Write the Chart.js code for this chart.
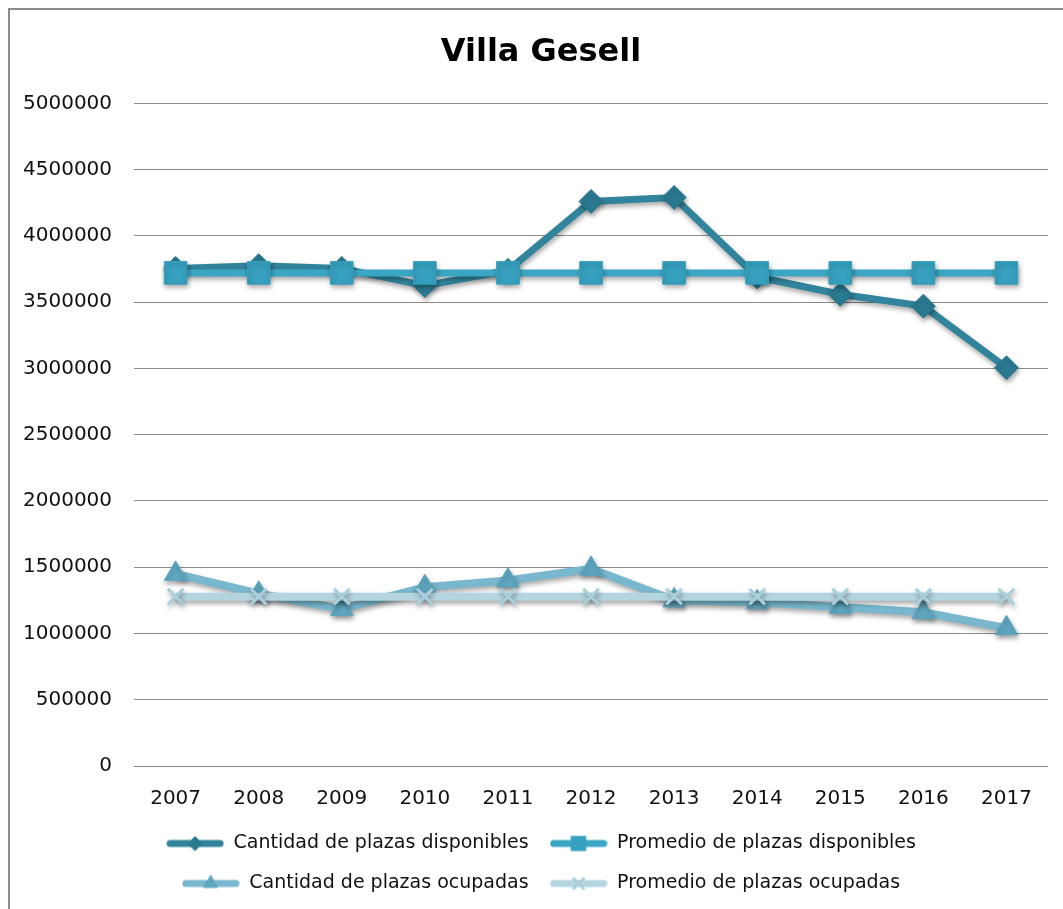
<!DOCTYPE html>
<html>
<head>
<meta charset="utf-8">
<script src="https://cdn.jsdelivr.net/npm/chart.js"></script>
<style>
    body { margin: 0; background: #fff; }
    #frame {
        position: absolute; left: 8px; top: 8px;
        width: 1062px; height: 908px;
        border-left: 2px solid #8a8a8a; border-top: 2px solid #8a8a8a;
        background: #fff;
    }
</style>
</head>
<body>
<div id="frame"><canvas id="villaChart"></canvas></div>
<script>
// Villa Gesell - plazas disponibles / ocupadas
const years = ['2007', '2008', '2009', '2010', '2011', '2012', '2013', '2014', '2015', '2016', '2017'];
const plazasDisponibles = [3755000, 3775000, 3755000, 3625000, 3740000, 4260000, 4290000, 3690000, 3560000, 3470000, 3005000];
const promedioDisponibles = [3721000, 3721000, 3721000, 3721000, 3721000, 3721000, 3721000, 3721000, 3721000, 3721000, 3721000];
const plazasOcupadas = [1450000, 1300000, 1185000, 1350000, 1400000, 1488000, 1250000, 1235000, 1200000, 1160000, 1040000];
const promedioOcupadas = [1278000, 1278000, 1278000, 1278000, 1278000, 1278000, 1278000, 1278000, 1278000, 1278000, 1278000];
const yTicks = [0, 500000, 1000000, 1500000, 2000000, 2500000, 3000000, 3500000, 4000000, 4500000, 5000000];

const seriesStyles = [
    { label: 'Cantidad de plazas disponibles', data: plazasDisponibles, line: '#31849b', fill: '#2a7a91', width: 7, point: 'rectRot', radius: 12, legendRadius: 7 },
    { label: 'Promedio de plazas disponibles', data: promedioDisponibles, line: '#3ba6c4', fill: '#36a0be', width: 7, point: 'rect', radius: 16, legendRadius: 10 },
    { label: 'Cantidad de plazas ocupadas', data: plazasOcupadas, line: '#78b7cd', fill: '#5fa7c0', width: 8, point: 'triangle', radius: 13, legendRadius: 8 },
    { label: 'Promedio de plazas ocupadas', data: promedioOcupadas, line: '#b4d5e0', fill: '#a9cfdc', width: 8, point: 'crossRot', radius: 11, legendRadius: 7 }
];

// small legend icon: thick line with the marker in the middle
function makeLegendIcon(s) {
    const c = document.createElement('canvas');
    c.width = 58; c.height = 24;
    const ctx = c.getContext('2d');
    ctx.strokeStyle = s.line;
    ctx.lineWidth = 7;
    ctx.lineCap = 'round';
    ctx.beginPath();
    ctx.moveTo(4, 12);
    ctx.lineTo(54, 12);
    ctx.stroke();
    ctx.fillStyle = s.fill;
    ctx.strokeStyle = s.fill;
    ctx.lineWidth = s.point === 'crossRot' ? 3 : 1;
    Chart.helpers.drawPoint(ctx, { pointStyle: s.point, radius: s.legendRadius, borderWidth: ctx.lineWidth, rotation: 0 }, 29, 12);
    return c;
}
const legendIcons = seriesStyles.map(makeLegendIcon);

const shadowPlugin = {
    id: 'lineShadow',
    beforeDatasetsDraw(chart) {
        const c = chart.ctx;
        c.save();
        c.shadowColor = 'rgba(0,0,0,0.35)';
        c.shadowBlur = 5;
        c.shadowOffsetX = 1;
        c.shadowOffsetY = 3;
    },
    afterDatasetsDraw(chart) {
        chart.ctx.restore();
    }
};

const ctx = document.getElementById('villaChart');
new Chart(ctx.getContext('2d'), {
    type: 'line',
    data: {
        labels: years,
        datasets: seriesStyles.map(function(s, i) {
            return {
                label: s.label,
                data: s.data,
                borderColor: s.line,
                backgroundColor: s.fill,
                borderWidth: s.width,
                tension: 0,
                pointStyle: s.point,
                pointRadius: s.radius,
                pointHoverRadius: s.radius,
                pointBackgroundColor: s.fill,
                pointBorderColor: s.fill,
                pointBorderWidth: s.point === 'crossRot' ? 3 : 1,
                order: 4 - i
            };
        })
    },
    options: {
        responsive: true,
        maintainAspectRatio: false,
        animation: false,
        layout: {
            padding: { left: 13, right: 13, top: 0, bottom: 15 }
        },
        plugins: {
            title: {
                display: true,
                text: 'Villa Gesell',
                color: '#000',
                font: { family: 'DejaVu Sans', size: 32, weight: 'bold' },
                padding: { top: 23, bottom: 32 }
            },
            legend: {
                position: 'bottom',
                labels: {
                    color: '#111',
                    font: { family: 'DejaVu Sans', size: 19 },
                    usePointStyle: true,
                    pointStyleWidth: 58,
                    padding: 21,
                    generateLabels: function(chart) {
                        const items = Chart.defaults.plugins.legend.labels.generateLabels(chart);
                        items.sort(function(a, b) { return a.datasetIndex - b.datasetIndex; });
                        items.forEach(function(it) { it.pointStyle = legendIcons[it.datasetIndex]; });
                        return items;
                    }
                }
            },
            tooltip: { enabled: false }
        },
        scales: {
            x: {
                offset: true,
                grid: { display: false, drawTicks: false },
                border: { display: false },
                ticks: {
                    color: '#111',
                    font: { family: 'DejaVu Sans', size: 20 },
                    padding: 21,
                    maxRotation: 0
                },
                afterFit: function(axis) {
                    // tighten the gap between the year labels and the legend
                    axis.height = axis.height - 19;
                }
            },
            y: {
                min: 0,
                max: 5000000,
                afterBuildTicks: function(axis) {
                    axis.ticks = yTicks.map(function(v) { return { value: v }; });
                },
                grid: { color: '#8c8c8c', lineWidth: 1, drawTicks: false },
                border: { display: false },
                ticks: {
                    color: '#111',
                    font: { family: 'DejaVu Sans', size: 20 },
                    padding: 22,
                    callback: function(value) { return String(value); }
                },
                afterFit: function(axis) {
                    axis.width = axis.width - 22;
                }
            },
            // empty right-hand strip, keeps the plot off the right edge
            yRight: {
                position: 'right',
                display: true,
                grid: { display: false, drawTicks: false },
                border: { display: false },
                ticks: { display: false },
                afterFit: function(axis) {
                    axis.width = 11;
                }
            }
        }
    },
    plugins: [shadowPlugin]
});
</script>
</body>
</html>
